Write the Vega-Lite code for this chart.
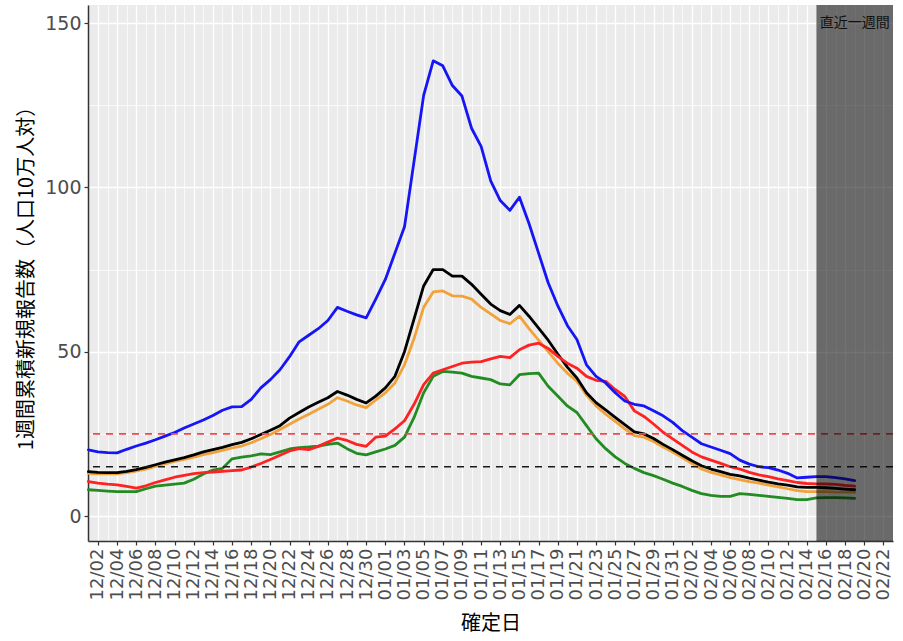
{
  "$schema": "https://vega.github.io/schema/vega-lite/v6.json",
  "width": 805,
  "height": 536,
  "autosize": {"type": "none"},
  "padding": {"left": 88, "top": 5, "right": 10, "bottom": 100},
  "background": "white",
  "config": {
    "font": "Noto Sans CJK JP",
    "view": {"fill": "#EBEBEB", "stroke": null}
  },
  "datasets": {
    "series": [
      {"date": "2020-12-01", "blue": 20.1, "black": 13.5, "orange": 13.0, "red": 10.5, "green": 8.0},
      {"date": "2020-12-02", "blue": 19.5, "black": 13.3, "orange": 12.8, "red": 10.0, "green": 7.8},
      {"date": "2020-12-03", "blue": 19.3, "black": 13.2, "orange": 12.8, "red": 9.7, "green": 7.6},
      {"date": "2020-12-04", "blue": 19.2, "black": 13.2, "orange": 12.8, "red": 9.5, "green": 7.4},
      {"date": "2020-12-05", "blue": 20.3, "black": 13.6, "orange": 13.2, "red": 9.0, "green": 7.4},
      {"date": "2020-12-06", "blue": 21.3, "black": 14.1, "orange": 13.7, "red": 8.5, "green": 7.4},
      {"date": "2020-12-07", "blue": 22.2, "black": 14.8, "orange": 14.3, "red": 9.2, "green": 8.3},
      {"date": "2020-12-08", "blue": 23.2, "black": 15.6, "orange": 15.1, "red": 10.2, "green": 9.1},
      {"date": "2020-12-09", "blue": 24.3, "black": 16.4, "orange": 15.9, "red": 11.0, "green": 9.4},
      {"date": "2020-12-10", "blue": 25.4, "black": 17.1, "orange": 16.6, "red": 11.8, "green": 9.7},
      {"date": "2020-12-11", "blue": 26.8, "black": 17.8, "orange": 17.2, "red": 12.4, "green": 10.0},
      {"date": "2020-12-12", "blue": 28.0, "black": 18.6, "orange": 17.9, "red": 12.9, "green": 11.2},
      {"date": "2020-12-13", "blue": 29.2, "black": 19.5, "orange": 18.7, "red": 13.2, "green": 12.8},
      {"date": "2020-12-14", "blue": 30.6, "black": 20.2, "orange": 19.3, "red": 13.4, "green": 14.0},
      {"date": "2020-12-15", "blue": 32.2, "black": 20.9, "orange": 20.0, "red": 13.6, "green": 14.5},
      {"date": "2020-12-16", "blue": 33.2, "black": 21.7, "orange": 20.7, "red": 13.8, "green": 17.4},
      {"date": "2020-12-17", "blue": 33.3, "black": 22.4, "orange": 21.3, "red": 14.0, "green": 17.9},
      {"date": "2020-12-18", "blue": 35.5, "black": 23.5, "orange": 22.3, "red": 14.9, "green": 18.3},
      {"date": "2020-12-19", "blue": 39.0, "black": 24.8, "orange": 23.5, "red": 16.0, "green": 18.9},
      {"date": "2020-12-20", "blue": 41.5, "black": 26.1, "orange": 24.8, "red": 17.2, "green": 18.7},
      {"date": "2020-12-21", "blue": 44.5, "black": 27.5, "orange": 26.3, "red": 18.5, "green": 19.5},
      {"date": "2020-12-22", "blue": 48.5, "black": 29.8, "orange": 27.9, "red": 19.8, "green": 20.4},
      {"date": "2020-12-23", "blue": 53.0, "black": 31.5, "orange": 29.5, "red": 20.5, "green": 20.8},
      {"date": "2020-12-24", "blue": 55.0, "black": 33.2, "orange": 31.0, "red": 20.2, "green": 21.0},
      {"date": "2020-12-25", "blue": 57.0, "black": 34.6, "orange": 32.5, "red": 21.2, "green": 21.3},
      {"date": "2020-12-26", "blue": 59.5, "black": 36.0, "orange": 34.0, "red": 22.5, "green": 21.8},
      {"date": "2020-12-27", "blue": 63.5, "black": 37.9, "orange": 36.0, "red": 23.7, "green": 22.2},
      {"date": "2020-12-28", "blue": 62.3, "black": 36.8, "orange": 35.0, "red": 23.0, "green": 20.5},
      {"date": "2020-12-29", "blue": 61.2, "black": 35.5, "orange": 33.8, "red": 21.8, "green": 19.1},
      {"date": "2020-12-30", "blue": 60.3, "black": 34.4, "orange": 33.0, "red": 21.2, "green": 18.6},
      {"date": "2020-12-31", "blue": 66.0, "black": 36.5, "orange": 35.3, "red": 24.0, "green": 19.5},
      {"date": "2021-01-01", "blue": 72.0, "black": 39.0, "orange": 37.5, "red": 24.3, "green": 20.4},
      {"date": "2021-01-02", "blue": 80.0, "black": 42.5, "orange": 40.5, "red": 26.5, "green": 21.5},
      {"date": "2021-01-03", "blue": 88.0, "black": 50.0, "orange": 46.0, "red": 29.0, "green": 24.0},
      {"date": "2021-01-04", "blue": 108.0, "black": 60.0, "orange": 54.0, "red": 34.0, "green": 30.0},
      {"date": "2021-01-05", "blue": 128.0, "black": 70.0, "orange": 63.5, "red": 40.0, "green": 37.5},
      {"date": "2021-01-06", "blue": 138.5, "black": 75.0, "orange": 68.2, "red": 43.5, "green": 42.5},
      {"date": "2021-01-07", "blue": 137.0, "black": 75.0, "orange": 68.5, "red": 44.5, "green": 44.0},
      {"date": "2021-01-08", "blue": 131.0, "black": 73.0, "orange": 67.0, "red": 45.5, "green": 43.8},
      {"date": "2021-01-09", "blue": 127.8, "black": 73.0, "orange": 66.9, "red": 46.5, "green": 43.5},
      {"date": "2021-01-10", "blue": 118.0, "black": 70.5, "orange": 66.0, "red": 46.8, "green": 42.5},
      {"date": "2021-01-11", "blue": 112.5, "black": 67.5, "orange": 63.5, "red": 47.0, "green": 42.0},
      {"date": "2021-01-12", "blue": 102.0, "black": 64.5, "orange": 61.5, "red": 47.8, "green": 41.5},
      {"date": "2021-01-13", "blue": 96.0, "black": 62.5, "orange": 59.5, "red": 48.6, "green": 40.2},
      {"date": "2021-01-14", "blue": 93.0, "black": 61.3, "orange": 58.5, "red": 48.2, "green": 39.9},
      {"date": "2021-01-15", "blue": 97.0, "black": 64.1, "orange": 60.8, "red": 50.6, "green": 43.0},
      {"date": "2021-01-16", "blue": 89.0, "black": 60.8, "orange": 57.0, "red": 52.0, "green": 43.3},
      {"date": "2021-01-17", "blue": 80.0, "black": 57.2, "orange": 53.5, "red": 52.6, "green": 43.5},
      {"date": "2021-01-18", "blue": 71.0, "black": 53.5, "orange": 50.0, "red": 51.0, "green": 39.5},
      {"date": "2021-01-19", "blue": 64.0, "black": 49.3, "orange": 46.5, "red": 48.6, "green": 36.5},
      {"date": "2021-01-20", "blue": 58.0, "black": 45.3, "orange": 43.5, "red": 46.5, "green": 33.5},
      {"date": "2021-01-21", "blue": 53.7, "black": 42.0, "orange": 41.0, "red": 45.0, "green": 31.5},
      {"date": "2021-01-22", "blue": 46.0, "black": 37.5, "orange": 36.8, "red": 42.5, "green": 27.5},
      {"date": "2021-01-23", "blue": 42.5, "black": 34.5, "orange": 33.5, "red": 41.3, "green": 23.5},
      {"date": "2021-01-24", "blue": 40.5, "black": 32.3, "orange": 31.0, "red": 41.0, "green": 20.5},
      {"date": "2021-01-25", "blue": 37.5, "black": 30.0, "orange": 28.8, "red": 38.5, "green": 18.0},
      {"date": "2021-01-26", "blue": 35.0, "black": 27.8, "orange": 26.5, "red": 36.4, "green": 16.0},
      {"date": "2021-01-27", "blue": 34.0, "black": 25.6, "orange": 24.5, "red": 32.0, "green": 14.5},
      {"date": "2021-01-28", "blue": 33.5, "black": 25.0, "orange": 24.0, "red": 30.3, "green": 13.2},
      {"date": "2021-01-29", "blue": 32.0, "black": 23.6, "orange": 22.7, "red": 28.0, "green": 12.3},
      {"date": "2021-01-30", "blue": 30.5, "black": 21.8, "orange": 21.0, "red": 25.5, "green": 11.2},
      {"date": "2021-01-31", "blue": 28.5, "black": 20.2, "orange": 19.5, "red": 23.5, "green": 10.0},
      {"date": "2021-02-01", "blue": 26.0, "black": 18.5, "orange": 17.8, "red": 21.5, "green": 9.0},
      {"date": "2021-02-02", "blue": 24.0, "black": 16.8, "orange": 16.0, "red": 19.5, "green": 7.8},
      {"date": "2021-02-03", "blue": 22.0, "black": 15.3, "orange": 14.3, "red": 18.0, "green": 6.8},
      {"date": "2021-02-04", "blue": 21.0, "black": 14.3, "orange": 13.3, "red": 17.0, "green": 6.3},
      {"date": "2021-02-05", "blue": 20.0, "black": 13.5, "orange": 12.5, "red": 16.0, "green": 6.0},
      {"date": "2021-02-06", "blue": 19.0, "black": 12.7, "orange": 11.7, "red": 15.0, "green": 6.0},
      {"date": "2021-02-07", "blue": 17.0, "black": 12.2, "orange": 11.1, "red": 14.3, "green": 6.8},
      {"date": "2021-02-08", "blue": 15.8, "black": 11.5, "orange": 10.5, "red": 13.3, "green": 6.6},
      {"date": "2021-02-09", "blue": 15.0, "black": 10.9, "orange": 10.0, "red": 12.5, "green": 6.3},
      {"date": "2021-02-10", "blue": 14.7, "black": 10.3, "orange": 9.4, "red": 12.0, "green": 6.0},
      {"date": "2021-02-11", "blue": 14.0, "black": 9.8, "orange": 8.9, "red": 11.3, "green": 5.7},
      {"date": "2021-02-12", "blue": 13.0, "black": 9.4, "orange": 8.3, "red": 10.8, "green": 5.4},
      {"date": "2021-02-13", "blue": 11.6, "black": 8.9, "orange": 7.7, "red": 10.2, "green": 5.0},
      {"date": "2021-02-14", "blue": 11.8, "black": 8.7, "orange": 7.4, "red": 9.9, "green": 5.0},
      {"date": "2021-02-15", "blue": 12.0, "black": 8.7, "orange": 7.4, "red": 9.8, "green": 5.5},
      {"date": "2021-02-16", "blue": 12.0, "black": 8.6, "orange": 7.4, "red": 9.8, "green": 5.6},
      {"date": "2021-02-17", "blue": 11.7, "black": 8.4, "orange": 7.3, "red": 9.6, "green": 5.6},
      {"date": "2021-02-18", "blue": 11.3, "black": 8.2, "orange": 7.3, "red": 9.3, "green": 5.5},
      {"date": "2021-02-19", "blue": 10.8, "black": 8.0, "orange": 7.2, "red": 9.1, "green": 5.4}
    ],
    "thresholds": [
      {"level": 25, "kind": "red"},
      {"level": 15, "kind": "black"}
    ],
    "period": [
      {"label": "直近一週間", "start": "2021-02-15", "end": "2021-02-24"}
    ]
  },
  "layer": [
    {
      "data": {"name": "series"},
      "transform": [
        {"fold": ["green", "orange", "black", "red", "blue"], "as": ["series", "value"]}
      ],
      "mark": {"type": "line", "strokeWidth": 2.8, "strokeJoin": "round", "strokeCap": "round"},
      "encoding": {
        "x": {
          "field": "date",
          "type": "temporal",
          "scale": {
            "type": "utc",
            "domain": [
              {"year": 2020, "month": 11, "date": 30, "hours": 23, "utc": true},
              {"year": 2021, "month": 2, "date": 23, "hours": 0, "utc": true}
            ]
          },
          "axis": {
            "title": "確定日",
            "titleFont": "Noto Sans CJK JP",
            "titleFontSize": 20,
            "titleFontWeight": "normal",
            "titleColor": "#000000",
            "titlePadding": 14,
            "tickCount": {"interval": "day", "step": 1},
            "labelExpr": "(round((datum.value - utc(2020,11,2))/864e5) % 2 == 0) ? utcFormat(datum.value, '%m/%d') : ''",
            "labelAngle": 270,
            "labelFont": "DejaVu Sans",
            "labelFontSize": 18,
            "labelColor": "#4D4D4D",
            "labelPadding": 3,
            "labelOverlap": false,
            "labelBound": false,
            "labelFlush": false,
            "domainColor": "#333333",
            "domainWidth": 1.5,
            "tickColor": "#333333",
            "tickSize": 4,
            "tickWidth": 1.2,
            "tickOpacity": {"condition": {"test": "round((datum.value - utc(2020,11,2))/864e5) % 2 == 0", "value": 1}, "value": 0},
            "grid": true,
            "gridColor": "#FFFFFF",
            "gridOpacity": 1,
            "gridWidth": {"condition": {"test": "round((datum.value - utc(2020,11,2))/864e5) % 2 == 0", "value": 1.3}, "value": 0.7}
          }
        },
        "y": {
          "field": "value",
          "type": "quantitative",
          "scale": {"domain": [-7.6, 155.5], "nice": false, "zero": false},
          "axis": {
            "title": "1週間累積新規報告数（人口10万人対）",
            "titleFont": "Noto Sans CJK JP",
            "titleFontSize": 20,
            "titleFontWeight": "normal",
            "titleColor": "#000000",
            "titlePadding": 8,
            "values": [0, 25, 50, 75, 100, 125, 150],
            "labelExpr": "datum.value % 50 == 0 ? datum.label : ''",
            "labelFont": "DejaVu Sans",
            "labelFontSize": 19,
            "labelColor": "#4D4D4D",
            "labelPadding": 3,
            "domainColor": "#333333",
            "domainWidth": 1.5,
            "tickColor": "#333333",
            "tickSize": 4,
            "tickWidth": 1.2,
            "tickOpacity": {"condition": {"test": "datum.value % 50 == 0", "value": 1}, "value": 0},
            "grid": true,
            "gridColor": "#FFFFFF",
            "gridOpacity": 1,
            "gridWidth": {"condition": {"test": "datum.value % 50 == 0", "value": 1.3}, "value": 0.7}
          }
        },
        "color": {
          "field": "series",
          "type": "nominal",
          "scale": {
            "domain": ["green", "orange", "black", "red", "blue"],
            "range": ["#228B22", "#F2A23A", "#000000", "#FF2222", "#1515F5"]
          },
          "legend": null
        }
      }
    },
    {
      "data": {"name": "thresholds"},
      "mark": {"type": "rule", "strokeWidth": 1.6, "strokeDash": [7, 6]},
      "encoding": {
        "y": {"field": "level", "type": "quantitative"},
        "color": {
          "field": "kind",
          "type": "nominal",
          "scale": {"domain": ["red", "black"], "range": ["#F0484C", "#1A1A1A"]},
          "legend": null
        }
      }
    },
    {
      "data": {"name": "period"},
      "mark": {"type": "rect", "color": "#000000", "opacity": 0.55, "clip": true},
      "encoding": {
        "x": {"field": "start", "type": "temporal"},
        "x2": {"field": "end"}
      }
    },
    {
      "data": {"name": "period"},
      "mark": {"type": "text", "font": "Noto Sans CJK JP", "fontSize": 14, "color": "#111111", "align": "center", "baseline": "middle"},
      "encoding": {
        "x": {"datum": {"year": 2021, "month": 2, "date": 19, "utc": true}, "type": "temporal"},
        "y": {"datum": 150, "type": "quantitative"},
        "text": {"field": "label"}
      }
    }
  ],
  "resolve": {"scale": {"color": "independent"}}
}
